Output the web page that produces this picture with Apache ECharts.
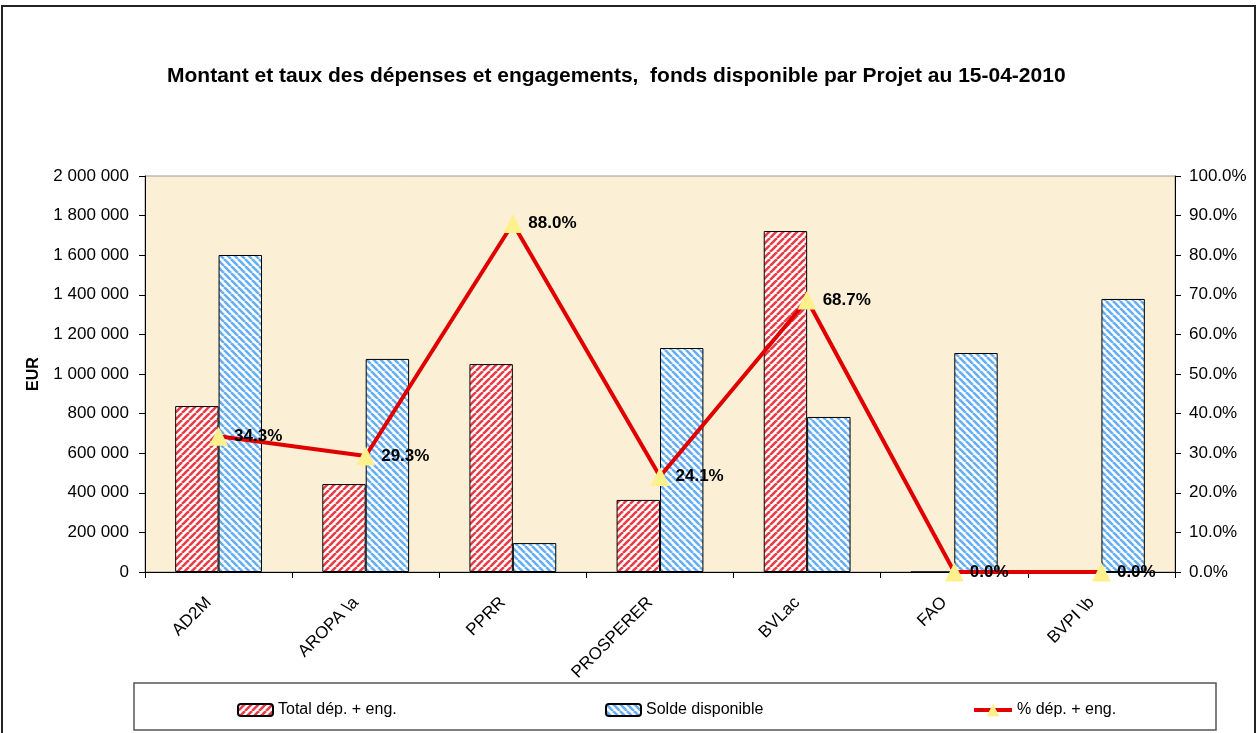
<!DOCTYPE html>
<html>
<head>
<meta charset="utf-8">
<script src="https://cdn.jsdelivr.net/npm/echarts@6/dist/echarts.min.js"></script>
<style>
  html, body { margin: 0; padding: 0; background: #fff; }
  #chart { width: 1257px; height: 733px; }
</style>
</head>
<body>
<div id="chart"></div>
<script>
// données
const projets = ['AD2M', 'AROPA \\a', 'PPRR', 'PROSPERER', 'BVLac', 'FAO', 'BVPI \\b']
const totalDepEng = [838000, 444000, 1050000, 364000, 1722000, 0, 0]
const soldeDispo = [1601000, 1076000, 146000, 1131000, 783000, 1106000, 1379000]
const tauxDepEng = [34.3, 29.3, 88.0, 24.1, 68.7, 0.0, 0.0]

const FONT = 'Liberation Sans, Arial, sans-serif'

// motif hachuré (diagonales)
function hatch(color, up) {
  const s = 7
  const c = document.createElement('canvas')
  c.width = s
  c.height = s
  const ctx = c.getContext('2d')
  ctx.fillStyle = '#ffffff'
  ctx.fillRect(0, 0, s, s)
  ctx.strokeStyle = color
  ctx.lineWidth = 2.6
  for (const o of [-s, 0, s]) {
    ctx.beginPath()
    if (up) {
      ctx.moveTo(o, s)
      ctx.lineTo(o + s, 0)
    } else {
      ctx.moveTo(o, 0)
      ctx.lineTo(o + s, s)
    }
    ctx.stroke()
  }
  return { image: c, repeat: 'repeat' }
}

const redHatch = hatch('#e63e48', true)
const blueHatch = hatch('#66aef2', false)

// format "1 200 000"
function fmtEur(v) {
  return String(v).replace(/\B(?=(\d{3})+(?!\d))/g, ' ')
}

const legendText = { fontSize: 16, color: '#000', fontFamily: FONT }

const myChart = echarts.init(document.getElementById('chart'))

const option = {
  backgroundColor: '#ffffff',
  animation: false,
  textStyle: { fontFamily: FONT },
  title: {
    text: 'Montant et taux des dépenses et engagements,  fonds disponible par Projet au 15-04-2010',
    left: 162,
    top: 61,
    textStyle: { fontSize: 21, fontWeight: 'bold', color: '#000', fontFamily: FONT }
  },
  graphic: [
    {
      type: 'rect',
      shape: { x: 2, y: 6, width: 1253, height: 740 },
      style: { fill: 'none', stroke: '#222', lineWidth: 2 },
      silent: true
    },
    {
      type: 'rect',
      shape: { x: 134, y: 683, width: 1082, height: 47 },
      style: { fill: '#fff', stroke: '#555', lineWidth: 1.5 },
      silent: true,
      z: -1
    }
  ],
  grid: {
    left: 145,
    right: 82,
    top: 176,
    bottom: 161,
    show: true,
    backgroundColor: '#fbefd6',
    borderColor: '#999',
    borderWidth: 1
  },
  legend: [
    {
      left: 232, top: 697, itemWidth: 35, itemHeight: 12, itemGap: 0,
      textStyle: legendText, data: ['Total dép. + eng.']
    },
    {
      left: 600, top: 697, itemWidth: 35, itemHeight: 12, itemGap: 0,
      textStyle: legendText, data: ['Solde disponible']
    },
    {
      left: 967, top: 697, itemWidth: 38, itemHeight: 16, itemGap: 0,
      lineStyle: { width: 4, color: '#e00000' },
      textStyle: legendText, data: ['% dép. + eng.']
    }
  ],
  xAxis: {
    type: 'category',
    data: projets,
    axisLine: { lineStyle: { color: '#000', width: 1 } },
    axisTick: { show: true, length: 6, lineStyle: { color: '#000' } },
    axisLabel: {
      rotate: 45,
      fontSize: 17,
      color: '#000',
      margin: 18,
      padding: [0, 14, 0, 0],
      fontFamily: FONT
    }
  },
  yAxis: [
    {
      type: 'value',
      min: 0,
      max: 2000000,
      interval: 200000,
      name: 'EUR',
      nameLocation: 'middle',
      nameGap: 103,
      nameTextStyle: { fontSize: 16, fontWeight: 'bold', color: '#000', fontFamily: FONT },
      axisLine: { show: true, lineStyle: { color: '#000' } },
      axisTick: { show: true, length: 6, lineStyle: { color: '#000' } },
      splitLine: { show: false },
      axisLabel: { fontSize: 17, color: '#000', margin: 16, formatter: fmtEur, fontFamily: FONT }
    },
    {
      type: 'value',
      min: 0,
      max: 100,
      interval: 10,
      position: 'right',
      axisLine: { show: true, lineStyle: { color: '#000' } },
      axisTick: { show: true, length: 6, lineStyle: { color: '#000' } },
      splitLine: { show: false },
      axisLabel: {
        fontSize: 17,
        color: '#000',
        margin: 14,
        fontFamily: FONT,
        formatter: v => v.toFixed(1) + '%'
      }
    }
  ],
  series: [
    {
      name: 'Total dép. + eng.',
      type: 'bar',
      data: totalDepEng,
      barGap: '0%',
      barCategoryGap: '41%',
      itemStyle: { color: redHatch, borderColor: '#000', borderWidth: 1 }
    },
    {
      name: 'Solde disponible',
      type: 'bar',
      data: soldeDispo,
      itemStyle: { color: blueHatch, borderColor: '#000', borderWidth: 1 }
    },
    {
      name: '% dép. + eng.',
      type: 'line',
      yAxisIndex: 1,
      data: tauxDepEng,
      symbol: 'triangle',
      symbolSize: 19,
      lineStyle: { color: '#e00000', width: 4 },
      itemStyle: { color: '#fff08e', borderWidth: 0 },
      label: {
        show: true,
        position: 'right',
        distance: 6,
        fontSize: 17,
        fontWeight: 'bold',
        color: '#000',
        fontFamily: FONT,
        formatter: p => p.value.toFixed(1) + '%'
      },
      z: 5
    }
  ]
}

myChart.setOption(option)
</script>
</body>
</html>
